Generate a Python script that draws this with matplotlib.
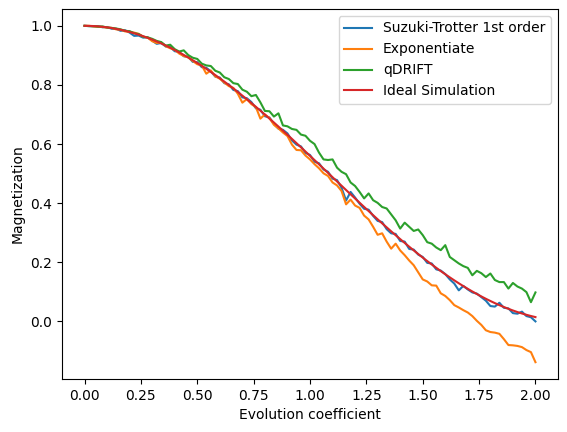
import numpy as np
import matplotlib
matplotlib.use("Agg")
import matplotlib.pyplot as plt

# evolution coefficient grid (step 0.02)
evolution = np.linspace(0, 2, 101)

suzuki_trotter = [
    1.000, 0.999, 0.998, 0.999, 0.995, 0.996, 0.990, 0.990, 0.983, 0.985,
    0.977, 0.966, 0.967, 0.960, 0.961, 0.950, 0.939, 0.942, 0.930, 0.928,
    0.914, 0.912, 0.897, 0.895, 0.878, 0.877, 0.860, 0.858, 0.846, 0.828,
    0.825, 0.806, 0.802, 0.783, 0.779, 0.758, 0.755, 0.742, 0.721, 0.716,
    0.694, 0.690, 0.668, 0.652, 0.648, 0.636, 0.612, 0.598, 0.592, 0.570,
    0.563, 0.540, 0.535, 0.514, 0.506, 0.483, 0.478, 0.452, 0.409, 0.438,
    0.419, 0.398, 0.381, 0.378, 0.357, 0.340, 0.336, 0.312, 0.298, 0.296,
    0.272, 0.270, 0.245, 0.243, 0.226, 0.218, 0.198, 0.196, 0.176, 0.172,
    0.160, 0.142, 0.128, 0.105, 0.120, 0.108, 0.098, 0.094, 0.082, 0.070,
    0.052, 0.050, 0.063, 0.046, 0.044, 0.028, 0.026, 0.033, 0.018, 0.014,
    0.000,
]

exponentiate = [
    1.000, 1.000, 0.998, 0.997, 0.996, 0.994, 0.993, 0.988, 0.987, 0.981,
    0.980, 0.977, 0.973, 0.963, 0.960, 0.948, 0.942, 0.944, 0.931, 0.924,
    0.919, 0.906, 0.898, 0.893, 0.881, 0.870, 0.866, 0.838, 0.849, 0.829,
    0.821, 0.808, 0.796, 0.790, 0.770, 0.740, 0.752, 0.735, 0.725, 0.686,
    0.700, 0.688, 0.665, 0.653, 0.639, 0.627, 0.598, 0.580, 0.579, 0.561,
    0.548, 0.532, 0.518, 0.501, 0.492, 0.470, 0.460, 0.441, 0.396, 0.412,
    0.392, 0.384, 0.358, 0.345, 0.320, 0.293, 0.298, 0.270, 0.246, 0.263,
    0.240, 0.224, 0.206, 0.190, 0.166, 0.142, 0.135, 0.122, 0.121, 0.095,
    0.086, 0.072, 0.055, 0.047, 0.038, 0.030, 0.018, 0.002, -0.012, -0.030,
    -0.036, -0.038, -0.042, -0.060, -0.080, -0.081, -0.083, -0.087, -0.097, -0.104,
    -0.138,
]

qdrift = [
    1.000, 0.999, 0.999, 0.997, 0.998, 0.994, 0.993, 0.991, 0.988, 0.983,
    0.982, 0.975, 0.972, 0.963, 0.961, 0.956, 0.949, 0.945, 0.933, 0.936,
    0.921, 0.913, 0.917, 0.901, 0.892, 0.888, 0.872, 0.866, 0.864, 0.848,
    0.842, 0.826, 0.820, 0.806, 0.803, 0.784, 0.777, 0.762, 0.766, 0.741,
    0.712, 0.711, 0.693, 0.704, 0.663, 0.660, 0.651, 0.648, 0.632, 0.628,
    0.611, 0.600, 0.571, 0.548, 0.546, 0.548, 0.520, 0.506, 0.498, 0.470,
    0.458, 0.438, 0.416, 0.433, 0.410, 0.401, 0.387, 0.382, 0.362, 0.342,
    0.314, 0.334, 0.320, 0.306, 0.311, 0.292, 0.268, 0.263, 0.250, 0.241,
    0.258, 0.218, 0.207, 0.196, 0.187, 0.181, 0.156, 0.171, 0.163, 0.150,
    0.162, 0.140, 0.133, 0.133, 0.111, 0.130, 0.118, 0.111, 0.099, 0.065,
    0.098,
]

ideal = [
    1.0000, 0.9998, 0.9992, 0.9981, 0.9966, 0.9948, 0.9925, 0.9897, 0.9866, 0.9831,
    0.9791, 0.9748, 0.9700, 0.9649, 0.9594, 0.9534, 0.9471, 0.9405, 0.9334, 0.9260,
    0.9182, 0.9101, 0.9016, 0.8928, 0.8837, 0.8742, 0.8645, 0.8544, 0.8440, 0.8334,
    0.8224, 0.8112, 0.7997, 0.7880, 0.7760, 0.7638, 0.7514, 0.7387, 0.7259, 0.7129,
    0.6997, 0.6862, 0.6728, 0.6591, 0.6452, 0.6313, 0.6173, 0.6031, 0.5889, 0.5746,
    0.5602, 0.5458, 0.5314, 0.5169, 0.5024, 0.4878, 0.4734, 0.4589, 0.4445, 0.4301,
    0.4158, 0.4015, 0.3873, 0.3733, 0.3593, 0.3454, 0.3317, 0.3182, 0.3047, 0.2915,
    0.2784, 0.2655, 0.2527, 0.2403, 0.2280, 0.2159, 0.2041, 0.1926, 0.1813, 0.1702,
    0.1595, 0.1490, 0.1388, 0.1289, 0.1194, 0.1101, 0.1012, 0.0927, 0.0844, 0.0765,
    0.0690, 0.0618, 0.0550, 0.0486, 0.0426, 0.0369, 0.0316, 0.0268, 0.0223, 0.0182,
    0.0145,
]

fig = plt.figure(figsize=(5.67, 4.32), dpi=100)
ax = fig.add_axes([62 / 567, 53 / 432, 496 / 567, 370 / 432])

ax.plot(evolution, suzuki_trotter, label='Suzuki-Trotter 1st order')
ax.plot(evolution, exponentiate, label='Exponentiate')
ax.plot(evolution, qdrift, label='qDRIFT')
ax.plot(evolution, ideal, label='Ideal Simulation')

ax.set_xlabel('Evolution coefficient')
ax.set_ylabel('Magnetization')
ax.legend(loc='upper right')

fig.savefig('out.png', dpi=100)
